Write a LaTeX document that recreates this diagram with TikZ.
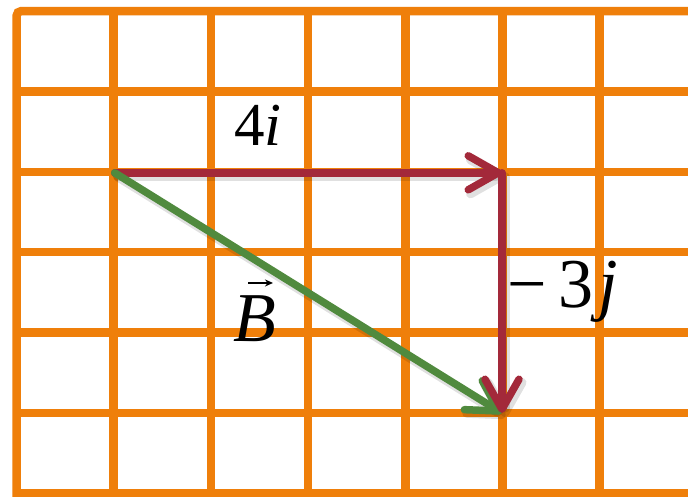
\documentclass[tikz,border=0pt]{standalone}
\usepackage{fontspec}
\setmainfont{Liberation Serif}
\usetikzlibrary{arrows.meta}
\definecolor{gridorange}{RGB}{239,127,10}
\definecolor{vecred}{RGB}{163,41,58}
\definecolor{vecgreen}{RGB}{80,138,62}
\tikzset{
  gridline/.style={draw=gridorange, line width=8.5pt},
  vecarrow/.style={line width=7.5pt, line cap=round,
    -{Straight Barb[length=30pt,width=34pt,round]}},
  vecshadow/.style={line width=9pt, line cap=round, draw=black, opacity=0.12,
    -{Straight Barb[length=30pt,width=34pt,round]}},
  lbl/.style={inner sep=0pt, text=black}
}
\begin{document}
\begin{tikzpicture}[x=1pt,y=-1pt]
\useasboundingbox (0,0) rectangle (688,496);
\fill[white] (0,0) rectangle (688,496);
\begin{scope}
\clip (0,0) rectangle (688,496);
% grid
\foreach \k in {1,...,6} {
  \draw[gridline] (16.5,{11+80.4*\k}) -- (700,{11+80.4*\k});
  \draw[gridline] ({16.5+97.2*\k},11) -- ({16.5+97.2*\k},510);
}
\draw[gridline, rounded corners=5pt] (16.5,510) -- (16.5,11) -- (700,11);
% points
\coordinate (O) at (114.7,172.8);
\coordinate (P) at (502,172.8);
\coordinate (Q) at (502,413);
% shadows
\draw[vecshadow] ([shift={(3,4)}]O) -- ([shift={(3,4)}]P);
\draw[vecshadow] ([shift={(3,4)}]P) -- ([shift={(3,4)}]Q);
\draw[vecshadow] ([shift={(3,4)}]O) -- ([shift={(3,4)}]Q);
% vectors
\draw[vecarrow, draw=vecred] (O) -- (P);
\draw[vecarrow, draw=vecgreen] (O) -- (Q);
\draw[vecarrow, draw=vecred] (P) -- (Q);
% labels
\node[lbl, font=\fontsize{61}{70}\selectfont, anchor=base] (l4i) at (258,145) {4\textit{i}};
\node[lbl, font=\fontsize{70}{80}\selectfont, anchor=base west] (l3j) at (507,307) {−\,3\kern5pt\textit{j}};
\node[lbl, font=\fontsize{70}{80}\selectfont, anchor=base] (lB) at (255,341) {\textit{B}};
\draw[line width=1.6pt, -{Stealth[length=8pt,width=7pt]}]
  ([xshift=-7pt,yshift=12pt]lB.north) -- ([xshift=18pt,yshift=12pt]lB.north);
\end{scope}
\end{tikzpicture}
\end{document}
